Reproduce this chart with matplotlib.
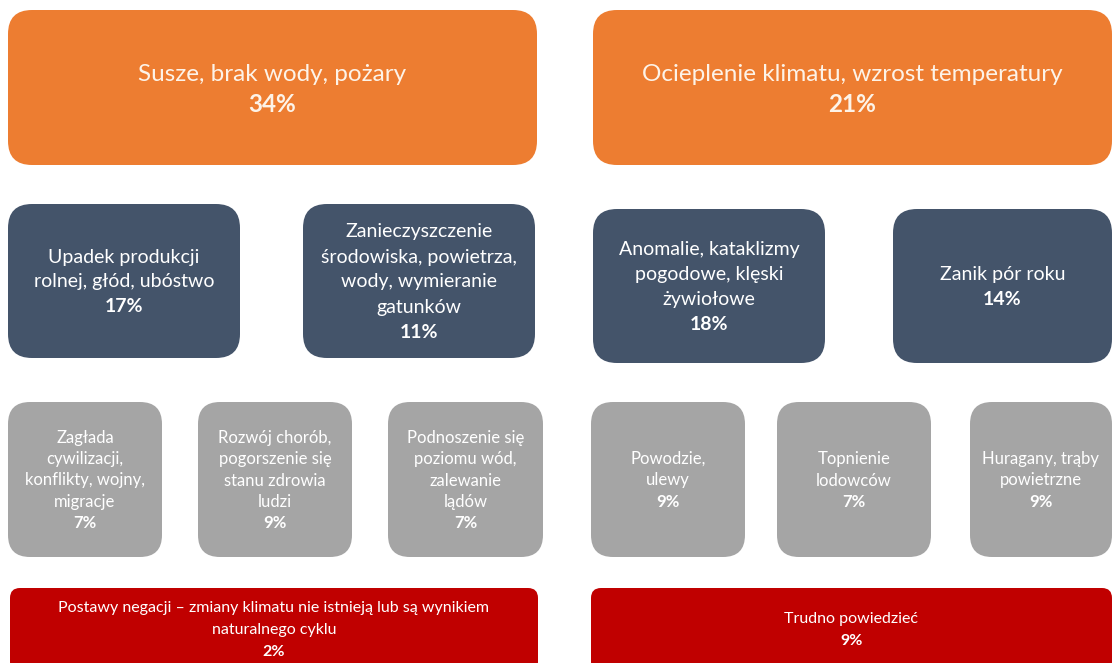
import matplotlib
matplotlib.use("Agg")
import matplotlib.pyplot as plt
from matplotlib.patches import FancyBboxPatch

# --- data: answers and shares ---
TOP_LABELS = ["Susze, brak wody, pożary", "Ocieplenie klimatu, wzrost temperatury"]
TOP_PCT = ["34%", "21%"]

MID_LABELS = ["Upadek produkcji\nrolnej, głód, ubóstwo",
              "Zanieczyszczenie\nśrodowiska, powietrza,\nwody, wymieranie\ngatunków",
              "Anomalie, kataklizmy\npogodowe, klęski\nżywiołowe",
              "Zanik pór roku"]
MID_PCT = ["17%", "11%", "18%", "14%"]

LOW_LABELS = ["Zagłada\ncywilizacji,\nkonflikty, wojny,\nmigracje",
              "Rozwój chorób,\npogorszenie się\nstanu zdrowia\nludzi",
              "Podnoszenie się\npoziomu wód,\nzalewanie\nlądów",
              "Powodzie,\nulewy",
              "Topnienie\nlodowców",
              "Huragany, trąby\npowietrzne"]
LOW_PCT = ["7%", "9%", "7%", "9%", "7%", "9%"]

BOT_LABELS = ["Postawy negacji – zmiany klimatu nie istnieją lub są wynikiem\nnaturalnego cyklu",
              "Trudno powiedzieć"]
BOT_PCT = ["2%", "9%"]

# --- layout (pixels): x0, x1, y0, y1 ---
TOP_BOXES = [(8, 537, 10, 165), (593, 1112, 10, 165)]
MID_BOXES = [(8, 240, 204, 358), (303, 535, 204, 358), (593, 825, 209, 363), (893, 1112, 209, 363)]
LOW_BOXES = [(8, 162, 402, 557), (198, 352, 402, 557), (388, 543, 402, 557),
             (591, 745, 402, 557), (777, 931, 402, 557), (970, 1112, 402, 557)]
BOT_BOXES = [(10, 538, 588, 672), (591, 1112, 588, 672)]

FONT = ["Lato", "DejaVu Sans"]


def draw_row(ax, boxes, labels, pcts, color, tcolor, fs, lh, rnd, dy=0):
    for (x0, x1, y0, y1), lab, pct in zip(boxes, labels, pcts):
        ax.add_patch(FancyBboxPatch((x0, y0), x1 - x0, y1 - y0,
                                    boxstyle=f"round,pad=0,rounding_size={rnd}",
                                    fc=color, ec="none"))
        lines = lab.split("\n")
        n = len(lines) + 1
        cx, cy = (x0 + x1) / 2, (y0 + min(y1, 670)) / 2 + dy
        top = cy - n * lh / 2
        for i, ln in enumerate(lines):
            ax.text(cx, top + (i + 0.5) * lh, ln, ha="center", va="center",
                    fontsize=fs, color=tcolor, family=FONT)
        ax.text(cx, top + (n - 0.5) * lh, pct, ha="center", va="center",
                fontsize=fs, color=tcolor, family=FONT, fontweight="bold")


def main(out="out.png"):
    fig = plt.figure(figsize=(11.12, 6.63), dpi=100)
    ax = fig.add_axes([0, 0, 1, 1])
    ax.set_xlim(0, 1112)
    ax.set_ylim(663, 0)
    ax.axis("off")

    draw_row(ax, TOP_BOXES, TOP_LABELS, TOP_PCT, "#ED7D31", "#FDF3E8", 17.5, 30, 24, 2)
    draw_row(ax, MID_BOXES, MID_LABELS, MID_PCT, "#44546A", "white", 14, 25, 24, 1)
    draw_row(ax, LOW_BOXES, LOW_LABELS, LOW_PCT, "#A5A5A5", "white", 12, 21.5, 22, 1)
    draw_row(ax, BOT_BOXES, BOT_LABELS, BOT_PCT, "#C00000", "white", 11.5, 22, 10, 1)

    fig.savefig(out, dpi=100)


if __name__ == "__main__":
    main()
